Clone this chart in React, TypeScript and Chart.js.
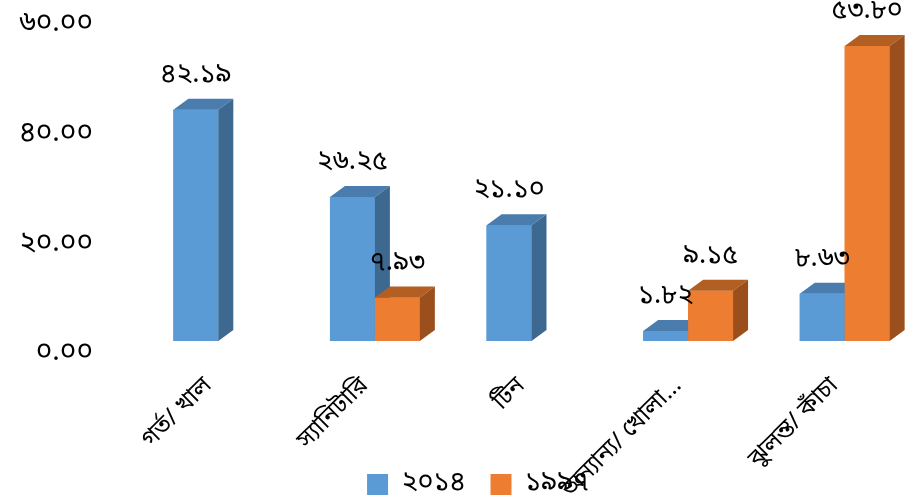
import React, { useEffect, useRef } from "react";
import { Chart, registerables } from "chart.js";
Chart.register(...registerables);

const categories = ["গর্ত/ খাল", "স্যানিটারি", "টিন", "অন্যান্য/ খোলা...", "ঝুলন্ত/ কাঁচা"];
const series2014: (number | null)[] = [42.19, 26.25, 21.1, 1.82, 8.63];
const series1997: (number | null)[] = [null, 7.93, null, 9.15, 53.8];
const seriesNames = ["২০১৪", "১৯৯৭"];
const yTickValues = [0, 20, 40, 60];
const yTickLabels = ["০.০০", "২০.০০", "৪০.০০", "৬০.০০"];

const bnDigits = "০১২৩৪৫৬৭৮৯";
const toBn = (s: string) => s.replace(/[0-9]/g, (d) => bnDigits[+d]);

const FONT = "'Noto Sans Bengali', 'Lohit Bengali', 'Vrinda', 'FreeSans', 'Noto Sans', sans-serif";

const palette = [
  { front: "#5B9BD5", top: "#4A7DAE", side: "#3D6890" },
  { front: "#ED7D31", top: "#B35E22", side: "#9A4F1D" },
];

const bar3d = {
  id: "bar3d",
  afterLayout(chart: any) {
    // let the rotated category labels run below the axis box (they overlap the legend in the original)
    if (chart.scales.x) chart.scales.x.bottom = chart.height;
    if (chart.scales.y) chart.scales.y.left = 0;
  },
  afterDatasetsDraw(chart: any) {
    const ctx = chart.ctx;
    const dx = 15, dy = 11;
    const n = chart.data.labels.length;
    const nd = chart.data.datasets.length;
    for (let i = 0; i < n; i++) {
      for (let d = 0; d < nd; d++) {
        const v = chart.data.datasets[d].data[i];
        const el = chart.getDatasetMeta(d).data[i];
        if (v == null || !el) continue;
        const { x, y, base, width } = el.getProps(["x", "y", "base", "width"], true);
        const l = x - width / 2, r = x + width / 2;
        const c = palette[d];
        ctx.save();
        ctx.fillStyle = c.front;
        ctx.fillRect(l, y, width, base - y);
        ctx.fillStyle = c.top;
        ctx.beginPath();
        ctx.moveTo(l, y); ctx.lineTo(l + dx, y - dy); ctx.lineTo(r + dx, y - dy); ctx.lineTo(r, y);
        ctx.closePath(); ctx.fill();
        ctx.fillStyle = c.side;
        ctx.beginPath();
        ctx.moveTo(r, y); ctx.lineTo(r + dx, y - dy); ctx.lineTo(r + dx, base - dy); ctx.lineTo(r, base);
        ctx.closePath(); ctx.fill();
        ctx.restore();
      }
    }
    ctx.save();
    ctx.fillStyle = "#000";
    ctx.font = `27px ${FONT}`;
    ctx.textAlign = "center";
    ctx.textBaseline = "middle";
    for (let d = 0; d < nd; d++) {
      const meta = chart.getDatasetMeta(d);
      meta.data.forEach((el: any, i: number) => {
        const v = chart.data.datasets[d].data[i];
        if (v == null) return;
        const { x, y } = el.getProps(["x", "y"], true);
        ctx.fillText(toBn(v.toFixed(2)), x, y - 33);
      });
    }
    ctx.restore();
  },
};

export default function App() {
  const ref = useRef<HTMLCanvasElement>(null);
  useEffect(() => {
    document.body.style.margin = "0";
    const chart = new Chart(ref.current!, {
      type: "bar",
      data: {
        labels: categories,
        datasets: [
          { label: seriesNames[0], data: series2014, backgroundColor: palette[0].front, categoryPercentage: 0.574, barPercentage: 1 },
          { label: seriesNames[1], data: series1997, backgroundColor: palette[1].front, categoryPercentage: 0.574, barPercentage: 1 },
        ],
      },
      options: {
        responsive: false,
        animation: false,
        layout: { padding: { left: 33, right: 7, top: 12, bottom: -5 } },
        scales: {
          x: {
            grid: { display: false, drawTicks: false },
            border: { display: false },
            ticks: { minRotation: 45, maxRotation: 45, autoSkip: false, padding: 32, labelOffset: -9, color: "#000", font: { family: FONT, size: 24 } },
            afterFit: (s: any) => { s.height = 105; s.paddingLeft = 0; s.paddingRight = 0; },
          },
          y: {
            min: 0,
            max: 60,
            grid: { display: false, drawTicks: false },
            border: { display: false },
            ticks: {
              stepSize: 20,
              padding: 47,
              labelOffset: 14,
              color: "#000",
              font: { family: FONT, size: 28 },
              callback: (v: any) => { const k = yTickValues.indexOf(v); return k >= 0 ? yTickLabels[k] : ""; },
            },
            afterFit: (s: any) => { s.width = 107; s.paddingTop = 0; s.paddingBottom = 0; },
          },
        },
        plugins: {
          legend: {
            position: "bottom",
            labels: { boxWidth: 21, boxHeight: 21, padding: 25, color: "#000", font: { family: FONT, size: 27 } },
          },
          tooltip: { enabled: false },
        },
      },
      plugins: [bar3d],
    });
    return () => chart.destroy();
  }, []);
  return (
    <div style={{ width: 922, height: 503, overflow: "hidden" }}>
      <canvas ref={ref} width={930} height={503} style={{ display: "block" }} />
    </div>
  );
}
